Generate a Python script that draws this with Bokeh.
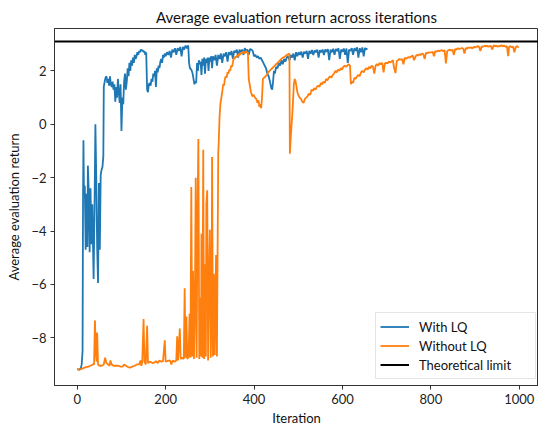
from bokeh.plotting import figure
from bokeh.models import Range1d, FixedTicker, Legend, LegendItem
from bokeh.embed import file_html
from bokeh.resources import INLINE

# ---------------- data ----------------
with_lq_iter = [0, 4, 8, 10, 12, 13, 14, 15, 17, 19, 21, 23, 24, 26, 28, 30, 32, 34, 36, 37,
                39, 41, 43, 45, 47, 49, 51, 53, 55, 57, 59, 60, 62, 64, 66, 68, 70, 72, 74, 76,
                78, 80, 82, 84, 86, 88, 90, 92, 94, 96, 98, 100, 102, 104, 106, 108, 110, 112, 114, 116,
                118, 120, 122, 124, 126, 128, 130, 132, 134, 136, 138, 140, 142, 144, 146, 148, 150, 152, 154, 156,
                158, 160, 162, 164, 166, 168, 170, 172, 174, 176, 178, 180, 182, 184, 186, 188, 190, 192, 194, 196,
                198, 200, 203, 206, 209, 212, 215, 218, 221, 224, 227, 230, 233, 236, 239, 242, 245, 248, 251, 253,
                255, 258, 261, 263, 265, 267, 269, 271, 273, 275, 277, 279, 281, 283, 285, 287, 289, 291, 293, 295,
                297, 299, 301, 303, 305, 307, 310, 313, 316, 319, 322, 325, 328, 331, 334, 337, 340, 343, 346, 349,
                352, 355, 358, 361, 364, 367, 370, 373, 376, 379, 382, 385, 388, 391, 394, 397, 400, 403, 406, 409,
                412, 415, 418, 421, 424, 427, 430, 433, 436, 439, 441, 443, 445, 447, 450, 453, 456, 459, 462, 465,
                468, 471, 474, 477, 480, 483, 486, 489, 492, 495, 498, 501, 504, 507, 510, 513, 516, 519, 522, 525,
                528, 531, 534, 537, 540, 543, 546, 549, 552, 555, 558, 561, 564, 567, 570, 573, 576, 579, 582, 585,
                588, 591, 594, 597, 600, 603, 606, 609, 612, 615, 618, 621, 624, 627, 630, 633, 636, 639, 642, 645,
                648, 651, 654, 656]
with_lq_return = [-9.18, -9.2, -9.15, -9.0, -8.5, -3.0, -0.6, -2.4, -2.3, -4.7, -2.6, -4.6, -1.55, -2.5, -4.8, -2.4, -4.5, -3.0, -4.9, -5.8,
                  -3.2, 0.0, -2.0, -4.6, -5.95, -2.2, -4.7, -1.9, -1.7, -1.6, -1.2, 1.4, 1.6, 1.75, 1.8, 1.55, 1.7, 1.45, 1.8, 1.5,
                  1.4, 1.6, 1.3, 1.5, 0.85, 1.4, 1.0, 1.7, 1.2, 0.8, 1.5, -0.25, 1.0, 0.75, 1.6, 1.9, 1.3, 1.6, 2.1, 1.8,
                  2.3, 2.0, 2.4, 2.2, 2.5, 2.3, 2.6, 2.45, 2.55, 2.7, 2.6, 2.75, 2.7, 2.8, 2.75, 2.78, 2.7, 2.75, 2.6, 2.7,
                  1.3, 1.2, 1.5, 1.55, 1.45, 1.7, 1.6, 1.9, 1.8, 2.0, 1.4, 2.1, 1.95, 2.2, 2.1, 2.35, 2.45, 2.3, 2.6, 2.5,
                  2.65, 2.55, 2.7, 2.6, 2.75, 2.5, 2.8, 2.7, 2.85, 2.6, 2.85, 2.75, 2.9, 2.55, 2.9, 2.8, 2.95, 2.85, 2.96, 2.3,
                  2.1, 2.05, 1.9, 1.7, 1.5, 1.6, 1.55, 2.3, 2.0, 2.4, 2.25, 2.35, 1.85, 2.45, 2.2, 2.5, 1.9, 2.45, 2.3, 2.5,
                  2.0, 2.5, 2.35, 2.55, 2.1, 2.55, 2.4, 2.6, 2.2, 2.6, 2.45, 2.65, 2.3, 2.65, 2.55, 2.7, 2.35, 2.7, 2.6, 2.75,
                  2.45, 2.75, 2.7, 2.8, 2.5, 2.8, 2.7, 2.8, 2.6, 2.85, 2.75, 2.8, 2.6, 2.82, 2.8, 2.75, 2.55, 2.6, 2.5, 2.55,
                  2.45, 2.5, 2.4, 2.3, 2.2, 2.1, 1.9, 1.8, 1.6, 1.35, 1.3, 1.6, 2.0, 1.9, 2.15, 2.1, 2.3, 2.2, 2.4, 2.25,
                  2.45, 2.35, 2.5, 2.55, 2.4, 2.6, 2.5, 2.65, 2.4, 2.7, 2.55, 2.7, 2.6, 2.72, 2.5, 2.72, 2.65, 2.75, 2.45, 2.75,
                  2.65, 2.78, 2.6, 2.77, 2.7, 2.8, 2.5, 2.78, 2.7, 2.8, 2.6, 2.8, 2.72, 2.82, 2.4, 2.8, 2.7, 2.83, 2.6, 2.82,
                  2.75, 2.85, 2.45, 2.8, 2.72, 2.84, 2.6, 2.84, 2.3, 2.8, 2.75, 2.85, 2.6, 2.85, 2.75, 2.88, 2.5, 2.85, 2.7, 2.88,
                  2.55, 2.86, 2.8, 2.85]

without_lq_iter = [0, 5, 10, 15, 20, 25, 30, 35, 38, 40, 42, 44, 45, 47, 50, 55, 60, 63, 66, 70,
                   73, 75, 78, 82, 88, 93, 98, 103, 106, 110, 115, 120, 125, 130, 135, 140, 143, 145, 147, 150,
                   152, 155, 158, 160, 165, 170, 175, 178, 182, 186, 190, 194, 198, 200, 205, 210, 213, 216, 220, 224,
                   226, 228, 232, 234, 238, 241, 243, 245, 247, 249, 252, 254, 256, 258, 260, 262, 264, 266, 268, 270,
                   272, 274, 276, 278, 280, 281, 283, 285, 287, 289, 291, 292, 294, 296, 298, 300, 302, 304, 305, 307,
                   309, 311, 312, 314, 316, 317, 319, 320, 322, 324, 326, 328, 330, 332, 334, 336, 338, 340, 342, 344,
                   346, 348, 350, 352, 354, 356, 358, 360, 362, 364, 366, 368, 370, 372, 374, 376, 378, 380, 382, 384,
                   386, 388, 390, 393, 396, 399, 402, 405, 408, 410, 412, 414, 416, 418, 420, 423, 426, 429, 432, 435,
                   438, 441, 444, 447, 450, 453, 456, 459, 462, 465, 468, 471, 474, 477, 480, 481, 483, 485, 487, 490,
                   492, 494, 496, 498, 500, 503, 506, 509, 512, 515, 518, 521, 524, 527, 530, 533, 536, 539, 542, 545,
                   548, 551, 554, 557, 560, 563, 566, 569, 572, 575, 578, 581, 584, 587, 590, 593, 596, 599, 602, 605,
                   608, 611, 614, 617, 619, 621, 624, 627, 630, 633, 636, 639, 642, 645, 648, 651, 654, 657, 660, 663,
                   666, 669, 672, 675, 678, 681, 684, 687, 690, 693, 696, 699, 702, 705, 708, 711, 714, 717, 720, 723,
                   726, 729, 732, 735, 738, 741, 744, 747, 750, 753, 756, 759, 762, 765, 768, 771, 774, 777, 780, 783,
                   786, 789, 792, 795, 798, 801, 804, 807, 810, 813, 816, 819, 822, 825, 828, 831, 834, 837, 840, 843,
                   846, 849, 852, 855, 858, 861, 864, 867, 870, 873, 876, 879, 882, 885, 888, 891, 894, 897, 900, 903,
                   906, 909, 912, 915, 918, 921, 924, 927, 930, 933, 936, 939, 942, 945, 948, 951, 954, 957, 960, 963,
                   966, 969, 972, 975, 977, 980, 983, 986, 989, 992, 995, 999]
without_lq_return = [-9.18, -9.2, -9.17, -9.13, -9.1, -9.08, -9.05, -9.0, -9.0, -7.35, -8.6, -8.9, -7.8, -9.0, -9.05, -9.05, -9.0, -8.75, -8.95, -9.0,
                     -9.05, -8.85, -9.0, -9.05, -9.05, -9.05, -9.08, -9.08, -9.0, -9.05, -9.1, -9.12, -9.08, -9.05, -9.0, -9.0, -8.85, -9.05, -8.9, -7.3,
                     -8.9, -9.0, -7.55, -8.95, -8.9, -8.95, -8.92, -8.88, -8.95, -8.85, -8.9, -8.88, -8.1, -8.9, -8.87, -8.85, -9.0, -8.85, -8.9, -8.85,
                     -7.95, -8.85, -7.65, -8.8, -8.75, -8.8, -6.15, -8.75, -7.2, -8.8, -8.7, -7.1, -8.75, -2.35, -8.7, -5.5, -8.8, -7.0, -2.0, -8.75,
                     -3.5, -0.55, -8.8, -6.5, -8.7, -4.1, -8.75, -0.95, -8.8, -5.25, -8.7, -3.0, -2.47, -8.85, -6.0, -3.95, -8.75, -7.0, -1.23, -8.7,
                     -5.6, -8.65, -7.4, -4.9, -8.7, -6.0, -1.05, -0.7, 0.3, 0.8, 1.0, 1.2, 1.5, 1.45, 1.7, 1.8, 1.75, 1.95, 1.9, 2.05,
                     2.0, 2.2, 2.15, 2.3, 2.5, 2.45, 2.55, 2.5, 2.6, 2.55, 2.65, 2.6, 2.68, 2.65, 2.7, 2.72, 2.65, 2.7, 2.75, 2.68,
                     2.7, 1.7, 1.5, 1.2, 1.05, 1.1, 1.0, 0.95, 0.8, 0.9, 0.65, 0.75, 0.6, 1.0, 1.7, 1.75, 1.8, 1.85, 1.95, 2.0,
                     2.05, 2.1, 2.15, 2.2, 2.25, 2.3, 2.35, 2.4, 2.45, 2.5, 2.52, 2.55, 2.6, 2.62, 2.65, -1.1, -0.5, 0.0, 0.5, 1.5,
                     1.7, 1.6, 1.4, 1.2, 1.1, 1.0, 0.95, 0.85, 0.8, 0.95, 1.0, 1.05, 1.15, 1.1, 1.3, 1.25, 1.35, 1.3, 1.4, 1.45,
                     1.4, 1.55, 1.5, 1.6, 1.55, 1.7, 1.65, 1.75, 1.8, 1.75, 1.85, 1.9, 2.0, 1.95, 2.05, 2.0, 2.1, 2.05, 2.15, 2.2,
                     2.15, 2.2, 2.25, 2.2, 1.5, 1.6, 1.55, 1.75, 1.7, 1.8, 1.85, 1.8, 1.95, 2.0, 1.95, 2.05, 2.1, 2.05, 2.15, 2.1,
                     2.2, 2.15, 1.9, 2.2, 2.25, 2.2, 2.3, 2.25, 2.3, 1.95, 2.28, 2.3, 2.28, 2.35, 2.32, 2.35, 2.4, 2.1, 1.92, 2.38,
                     2.4, 2.45, 2.42, 2.45, 2.25, 2.5, 2.45, 2.5, 2.52, 2.5, 2.55, 2.58, 2.4, 2.53, 2.6, 2.58, 2.62, 2.6, 2.65, 2.62,
                     2.45, 2.68, 2.66, 2.7, 2.68, 2.7, 2.72, 2.55, 2.75, 2.72, 2.76, 2.74, 2.76, 2.78, 2.74, 2.78, 2.28, 2.74, 2.78, 2.8,
                     2.76, 2.8, 2.6, 2.82, 2.8, 2.85, 2.82, 2.84, 2.86, 2.84, 2.65, 2.86, 2.84, 2.88, 2.86, 2.88, 2.84, 2.9, 2.88, 2.9,
                     2.93, 2.9, 2.75, 2.92, 2.9, 2.94, 2.92, 2.95, 2.9, 2.94, 2.92, 2.8, 2.96, 2.92, 2.95, 2.9, 2.94, 2.93, 2.96, 2.92,
                     2.95, 2.9, 2.93, 2.55, 2.9, 2.93, 2.88, 2.92, 2.7, 2.9, 2.93, 2.88]

theoretical_limit = 3.1

series_names = ["With LQ", "Without LQ", "Theoretical limit"]
series_colors = ["#1f77b4", "#ff7f0e", "#000000"]

x_ticks = [0, 200, 400, 600, 800, 1000]
y_ticks = [-8, -6, -4, -2, 0, 2]
y_tick_labels = ["\u22128", "\u22126", "\u22124", "\u22122", "0", "2"]

title_text = "Average evaluation return across iterations"
x_label = "Iteration"
y_label = "Average evaluation return"

# ---------------- figure ----------------
FONT = "Lato"
x_lo, x_hi = -51.5, 1043.5
y_lo, y_hi = -9.79, 3.59

p = figure(width=538, height=428, output_backend="svg", toolbar_location=None,
           x_range=Range1d(x_lo, x_hi), y_range=Range1d(y_lo, y_hi),
           min_border_left=54, min_border_right=0, min_border_top=28, min_border_bottom=39,
           title=title_text, background_fill_color="white", border_fill_color="white")

p.title.align = "center"
p.title.text_font = FONT
p.title.text_font_size = "15px"
p.title.text_font_style = "normal"
p.title.text_color = "#111111"
p.title.standoff = 5

p.xgrid.visible = False
p.ygrid.visible = False
p.outline_line_color = "#333333"
p.outline_line_width = 1
p.outline_line_alpha = 1

for ax in (p.xaxis[0], p.yaxis[0]):
    ax.major_label_text_font = FONT
    ax.major_label_text_font_size = "13px"
    ax.major_label_text_color = "#222222"
    ax.axis_label_text_font = FONT
    ax.axis_label_text_font_size = "13px"
    ax.axis_label_text_font_style = "normal"
    ax.axis_label_text_color = "#111111"
    ax.major_tick_out = 4
    ax.major_tick_in = 0
    ax.minor_tick_out = 0
    ax.minor_tick_in = 0
    ax.axis_line_color = "#333333"
    ax.major_tick_line_color = "#333333"

p.xaxis.ticker = FixedTicker(ticks=x_ticks)
p.yaxis.ticker = FixedTicker(ticks=y_ticks)
p.yaxis.major_label_overrides = {t: s for t, s in zip(y_ticks, y_tick_labels)}
p.xaxis.axis_label = x_label
p.yaxis.axis_label = y_label
p.xaxis.major_label_standoff = 4
p.yaxis.major_label_standoff = 4
p.xaxis.axis_label_standoff = 3
p.yaxis.axis_label_standoff = 6

r1 = p.line(with_lq_iter, with_lq_return, line_color=series_colors[0], line_width=1.8)
r2 = p.line(without_lq_iter, without_lq_return, line_color=series_colors[1], line_width=1.8)
r3 = p.line([x_lo, x_hi], [theoretical_limit, theoretical_limit],
            line_color=series_colors[2], line_width=2)

legend = Legend(items=[LegendItem(label=series_names[0], renderers=[r1]),
                       LegendItem(label=series_names[1], renderers=[r2]),
                       LegendItem(label=series_names[2], renderers=[r3])],
                location=(321, 6))
legend.label_text_font = FONT
legend.label_text_font_size = "13px"
legend.label_text_color = "#111111"
legend.glyph_width = 29
legend.glyph_height = 19
legend.label_height = 19
legend.label_width = 112
legend.label_standoff = 10
legend.spacing = 0
legend.padding = 4
legend.margin = 0
legend.border_line_color = "#cccccc"
legend.border_line_width = 1
legend.background_fill_alpha = 0.8
p.add_layout(legend)

open("out.html", "w").write(file_html(p, INLINE))
